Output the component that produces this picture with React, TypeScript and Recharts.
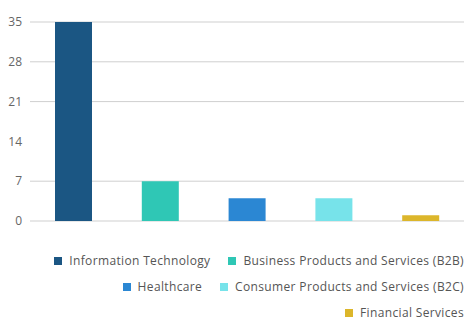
import { BarChart, Bar, XAxis, YAxis, CartesianGrid, Cell } from "recharts";

const categories = [
    "Information Technology",
    "Business Products and Services (B2B)",
    "Healthcare",
    "Consumer Products and Services (B2C)",
    "Financial Services",
];
const counts = [35, 7, 4, 4, 1];
const colors = ["#1b5683", "#2fc7b5", "#2b87d3", "#77e3ea", "#dcb62b"];
const yTicks = [0, 7, 14, 21, 28, 35];
const gridValues = [0, 7, 21, 28, 35];

const data = categories.map((name, i) => ({ name, value: counts[i] }));

export default function App() {
    return (
        <div style={{ position: "absolute", left: 0, top: 0, width: 473, height: 321, background: "#fff", fontFamily: "'Open Sans', sans-serif" }}>
            <BarChart width={473} height={321} data={data} margin={{ top: 22, right: 9, left: 0, bottom: 100 }} barSize={37}>
                <CartesianGrid vertical={false} stroke="#cfcfcf" horizontalValues={gridValues} />
                <XAxis dataKey="name" hide />
                <YAxis
                    width={30}
                    domain={[0, 35]}
                    ticks={yTicks}
                    axisLine={false}
                    tickLine={false}
                    tick={{ fill: "#666", fontSize: 12 }}
                    tickMargin={2}
                />
                <Bar dataKey="value" isAnimationActive={false}>
                    {data.map((d, i) => (
                        <Cell key={d.name} fill={colors[i]} />
                    ))}
                </Bar>
            </BarChart>

            {/* legend, right aligned, wraps like the original */}
            <div
                style={{
                    position: "absolute",
                    left: 40,
                    top: 252,
                    width: 424,
                    display: "flex",
                    flexWrap: "wrap",
                    justifyContent: "flex-end",
                    rowGap: 8,
                    columnGap: 18,
                    fontSize: 12,
                    letterSpacing: 0.35,
                    color: "#555",
                    lineHeight: "18px",
                }}
            >
                {categories.map((name, i) => (
                    <div key={name} style={{ display: "flex", alignItems: "center" }}>
                        <span style={{ display: "inline-block", width: 8, height: 8, background: colors[i], marginRight: 7 }} />
                        <span>{name}</span>
                    </div>
                ))}
            </div>
        </div>
    );
}
